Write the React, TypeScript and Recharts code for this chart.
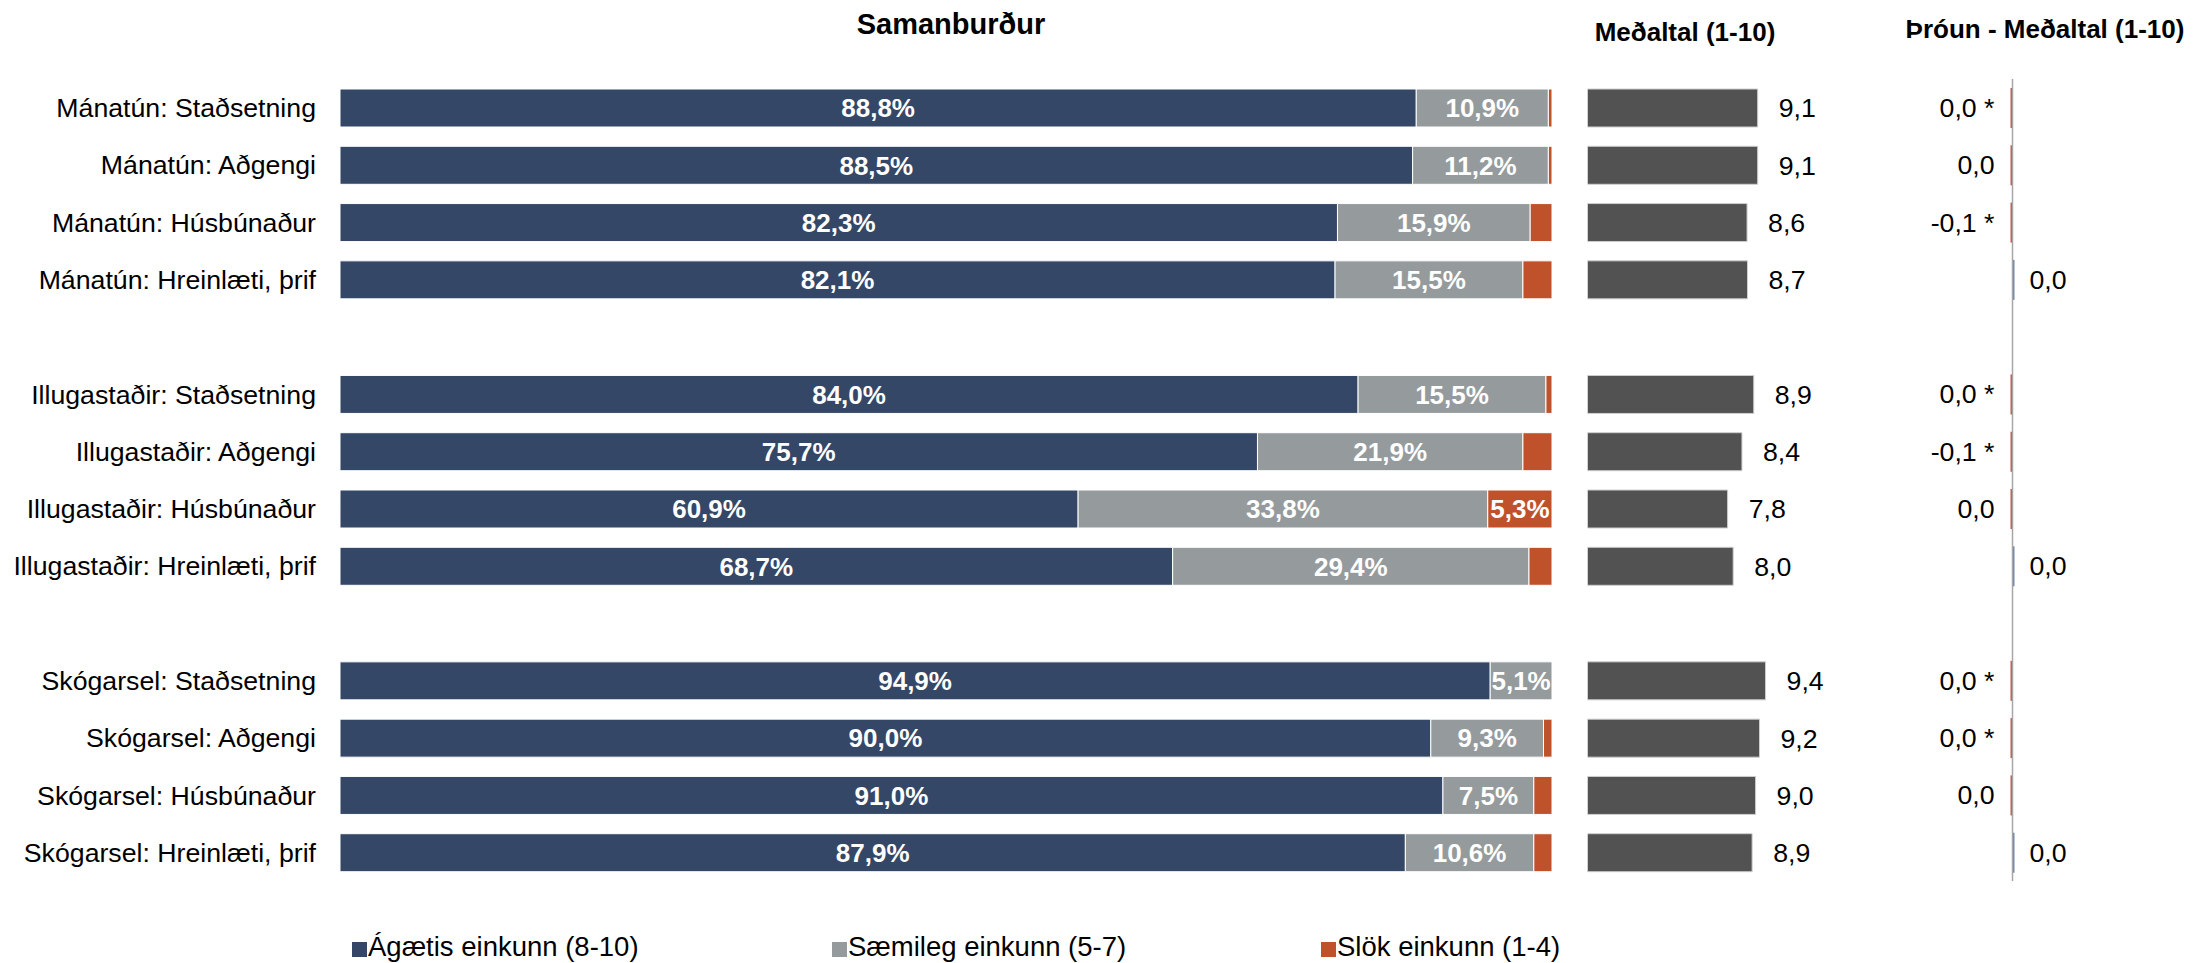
import React from 'react';
import { BarChart, Bar, XAxis, YAxis, LabelList, Cell, ReferenceLine } from 'recharts';

const FONT = '"Liberation Sans", Arial, sans-serif';

const categories = [
  'Mánatún: Staðsetning',
  'Mánatún: Aðgengi',
  'Mánatún: Húsbúnaður',
  'Mánatún: Hreinlæti, þrif',
  ' ',
  'Illugastaðir: Staðsetning',
  'Illugastaðir: Aðgengi',
  'Illugastaðir: Húsbúnaður',
  'Illugastaðir: Hreinlæti, þrif',
  '  ',
  'Skógarsel: Staðsetning',
  'Skógarsel: Aðgengi',
  'Skógarsel: Húsbúnaður',
  'Skógarsel: Hreinlæti, þrif',
];

const agaetis = [88.8, 88.5, 82.3, 82.1, null, 84.0, 75.7, 60.9, 68.7, null, 94.9, 90.0, 91.0, 87.9];
const saemileg = [10.9, 11.2, 15.9, 15.5, null, 15.5, 21.9, 33.8, 29.4, null, 5.1, 9.3, 7.5, 10.6];
const slok = [0.3, 0.3, 1.8, 2.4, null, 0.5, 2.4, 5.3, 1.9, null, 0.0, 0.7, 1.5, 1.5];
const means = [9.1, 9.1, 8.64, 8.66, null, 8.93, 8.42, 7.8, 8.04, null, 9.44, 9.18, 9.01, 8.86];
const trend = [-0.02, -0.01, -0.1, 0.01, null, -0.02, -0.1, -0.01, 0.01, null, -0.02, -0.02, -0.01, 0.01];
const trendSig = [true, false, true, false, false, true, true, false, false, false, true, true, false, false];

const seriesNames = ['Ágætis einkunn (8-10)', 'Sæmileg einkunn (5-7)', 'Slök einkunn (1-4)'];
const seriesColors = ['#344766', '#959B9D', '#C0522B'];

const fmtPct = (v: any) =>
  v == null || v < 5 ? '' : `${Number(v).toFixed(1).replace('.', ',')}%`;
const fmtMean = (v: any) => (v == null ? '' : Number(v).toFixed(1).replace('.', ','));
const fmtTrend = (v: number) => (Math.round(v * 10) / 10).toFixed(1).replace('.', ',');

const rows = categories.map((cat, i) => ({
  cat,
  a: agaetis[i],
  s: saemileg[i],
  l: slok[i],
  mean: means[i],
  trend: trend[i],
  trendLabel:
    trend[i] == null ? null : (trend[i]! < 0 ? '-' : '+') + fmtTrend(trend[i]!) + (trendSig[i] ? ' *' : ''),
}));

const LABEL_FS = 26.7;
const TREND_LEFT = 40;
const TREND_PLOT_W = 225;
const TREND_ZERO = TREND_LEFT + TREND_PLOT_W / 2;

const TrendLabel = (props: any) => {
  const { x, y, width, height, value } = props;
  if (value == null) return null;
  const s = String(value);
  const neg = s[0] === '-';
  const text = s.slice(1);
  const left = Math.min(x, x + width);
  const right = Math.max(x, x + width);
  const cy = y + height / 2;
  if (neg) {
    return (
      <text x={Math.min(left, TREND_ZERO) - 16} y={cy} textAnchor="end" dominantBaseline="central" fontSize={LABEL_FS} fill="#000" fontFamily={FONT}>
        {text}
      </text>
    );
  }
  return (
    <text x={Math.max(right, TREND_ZERO) + 15} y={cy} textAnchor="start" dominantBaseline="central" fontSize={LABEL_FS} fill="#000" fontFamily={FONT}>
      {text}
    </text>
  );
};

const legendX = [352, 832, 1321];

export default function App() {
  return (
    <div style={{ position: 'absolute', left: 0, top: 0, width: 2193, height: 963, background: '#fff', fontFamily: FONT }}>
      <div style={{ position: 'absolute', left: 0, top: 0 }}>
        <BarChart
          layout="vertical"
          width={1560}
          height={963}
          data={rows}
          margin={{ top: 79, right: 8, bottom: 82, left: 0 }}
        >
          <XAxis type="number" domain={[0, 100]} hide />
          <YAxis
            type="category"
            dataKey="cat"
            width={340}
            axisLine={false}
            tickLine={false}
            tickSize={0}
            tickMargin={24}
            interval={0}
            tick={{ fill: '#000', fontSize: LABEL_FS, fontFamily: FONT }}
          />
          <Bar dataKey="a" stackId="s" fill={seriesColors[0]} stroke="#fff" strokeWidth={1} barSize={38} isAnimationActive={false}>
            <LabelList dataKey="a" position="center" formatter={fmtPct} fill="#fff" fontSize={26} fontWeight={700} fontFamily={FONT} />
          </Bar>
          <Bar dataKey="s" stackId="s" fill={seriesColors[1]} stroke="#fff" strokeWidth={1} barSize={38} isAnimationActive={false}>
            <LabelList dataKey="s" position="center" formatter={fmtPct} fill="#fff" fontSize={26} fontWeight={700} fontFamily={FONT} />
          </Bar>
          <Bar dataKey="l" stackId="s" fill={seriesColors[2]} stroke="#fff" strokeWidth={1} barSize={38} isAnimationActive={false}>
            <LabelList dataKey="l" position="center" formatter={fmtPct} fill="#fff" fontSize={26} fontWeight={700} fontFamily={FONT} />
          </Bar>
        </BarChart>
      </div>

      <div style={{ position: 'absolute', left: 1560, top: 0 }}>
        <BarChart
          layout="vertical"
          width={300}
          height={963}
          data={rows}
          margin={{ top: 79, right: 81.5, bottom: 82, left: 27.5 }}
        >
          <XAxis type="number" domain={[1.74, 10]} hide allowDataOverflow />
          <YAxis type="category" dataKey="cat" hide />
          <Bar dataKey="mean" fill="#525252" stroke="#cfcfcf" strokeWidth={1} barSize={38} isAnimationActive={false}>
            <LabelList dataKey="mean" position="right" offset={21} formatter={fmtMean} fill="#000" fontSize={LABEL_FS} fontFamily={FONT} />
          </Bar>
        </BarChart>
      </div>

      <div style={{ position: 'absolute', left: 1860, top: 0 }}>
        <BarChart
          layout="vertical"
          width={333}
          height={963}
          data={rows}
          margin={{ top: 79, right: 333 - TREND_LEFT - TREND_PLOT_W, bottom: 82, left: TREND_LEFT }}
        >
          <XAxis type="number" domain={[-10, 10]} hide allowDataOverflow />
          <YAxis type="category" dataKey="cat" hide />
          <ReferenceLine x={0} stroke="#A6A6A6" strokeWidth={1.5} />
          <Bar dataKey="trend" barSize={40} minPointSize={2} isAnimationActive={false}>
            {rows.map((r, i) => (
              <Cell key={i} fill={r.trend != null && r.trend < 0 ? '#C0504D' : '#6F84A8'} />
            ))}
            <LabelList dataKey="trendLabel" content={<TrendLabel />} />
          </Bar>
        </BarChart>
      </div>

      <svg width={2193} height={963} style={{ position: 'absolute', left: 0, top: 0, pointerEvents: 'none' }}>
        <text x={951} y={34} textAnchor="middle" fontSize={29} fontWeight={700} fill="#000" fontFamily={FONT}>
          Samanburður
        </text>
        <text x={1685} y={41} textAnchor="middle" fontSize={26} fontWeight={700} fill="#000" fontFamily={FONT}>
          Meðaltal (1-10)
        </text>
        <text x={2045} y={38} textAnchor="middle" fontSize={26} fontWeight={700} fill="#000" fontFamily={FONT}>
          Þróun - Meðaltal (1-10)
        </text>
        {seriesNames.map((n, i) => (
          <g key={n}>
            <rect x={legendX[i]} y={942} width={15} height={15} fill={seriesColors[i]} />
            <text x={legendX[i] + 16} y={956} fontSize={27.5} fill="#000" fontFamily={FONT}>
              {n}
            </text>
          </g>
        ))}
      </svg>
    </div>
  );
}
